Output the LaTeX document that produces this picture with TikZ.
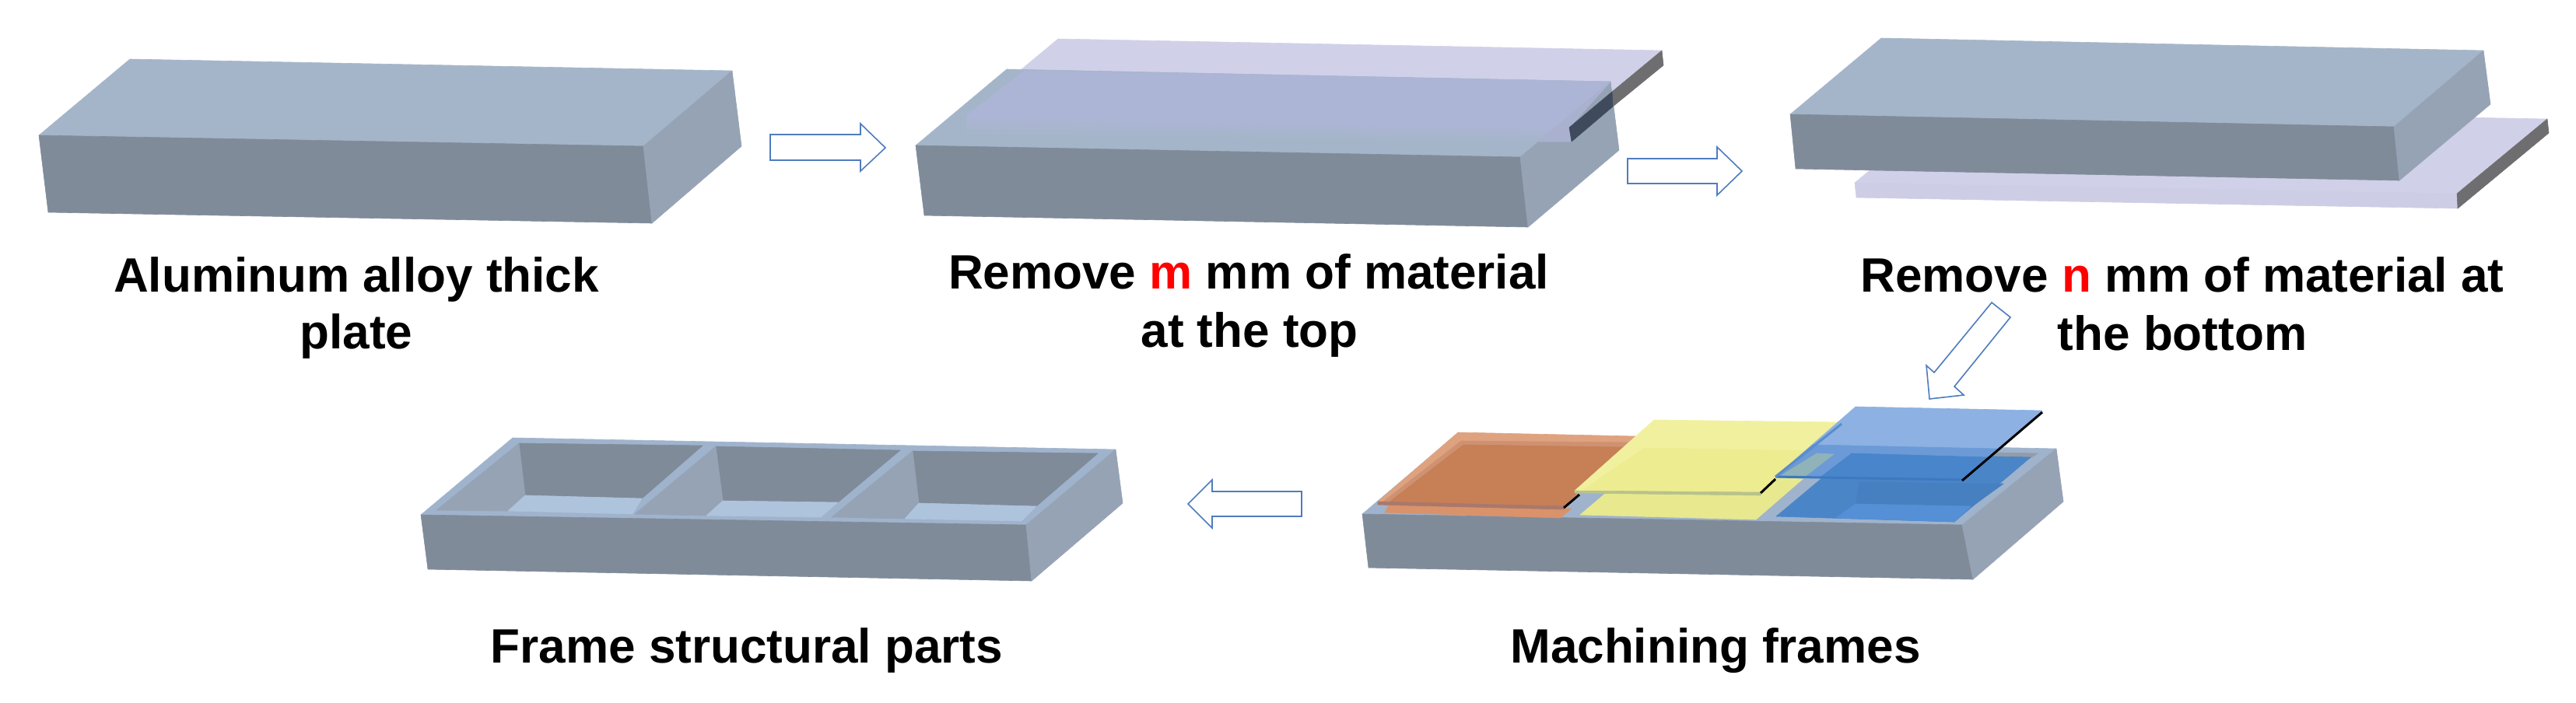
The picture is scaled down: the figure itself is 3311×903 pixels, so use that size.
\documentclass[tikz,border=0pt]{standalone}
\usepackage{fontspec}
\setmainfont{Liberation Sans}
\definecolor{ctop}{HTML}{A5B5C9}
\definecolor{crim}{HTML}{9FB3CC}
\definecolor{cfront}{HTML}{808B9A}
\definecolor{cside}{HTML}{96A3B5}
\definecolor{cfloor}{HTML}{AEC4DC}
\definecolor{cslab}{HTML}{D0D0E9}
\definecolor{cslabf}{HTML}{CDCDE6}
\definecolor{cover}{HTML}{ADB5D6}
\definecolor{cedge}{HTML}{6E6E70}
\definecolor{cedged}{HTML}{3F4A5C}
\definecolor{carrow}{HTML}{4F7CBE}
\definecolor{ored}{HTML}{FF0000}
\definecolor{orcell}{HTML}{D9926A}
\definecolor{orlight}{HTML}{DFA27F}
\definecolor{orband}{HTML}{CE9272}
\definecolor{ormain}{HTML}{C77F56}
\definecolor{oredge}{HTML}{A9786C}
\definecolor{yecell}{HTML}{E8E88F}
\definecolor{yesheet}{HTML}{F1F09E}
\definecolor{yeinner}{HTML}{EDEC90}
\definecolor{yeedge}{HTML}{B8C28A}
\definecolor{blcell}{HTML}{4A85C8}
\definecolor{blfloor}{HTML}{5590D6}
\definecolor{blwall}{HTML}{4780C0}
\definecolor{blsheet}{HTML}{8CB1E2}
\definecolor{blband}{HTML}{6B9AD6}
\definecolor{bldark}{HTML}{4985CA}
\definecolor{blteal}{HTML}{8FB3B8}
\definecolor{blline}{HTML}{3D79C0}
\tikzset{
  face/.style={fill=#1,draw=#1,line width=.6pt,line join=round},
  flowarrow/.style={draw=carrow,fill=white,line width=1.6pt,line join=miter},
  caption/.style={anchor=base,inner sep=0pt,font=\fontsize{62}{62}\selectfont\bfseries,text=black},
  inkedge/.style={draw=black,line width=3pt}
}
\begin{document}
\begin{tikzpicture}[x=1pt,y=-1pt]
\useasboundingbox (0,0) rectangle (3311,903);
% ---- step 1: plate
\path[face=ctop] (167,76) -- (941,91) -- (827,188) -- (50,174) -- cycle;
\path[face=cfront] (50,174) -- (827,188) -- (838,287) -- (62,273) -- cycle;
\path[face=cside] (941,91) -- (953,188) -- (838,287) -- (827,188) -- cycle;
% ---- arrow 1
\draw[flowarrow] (990,173) -- (1106,173) -- (1106,159) -- (1138,190) -- (1106,220) -- (1106,206) -- (990,206) -- cycle;
% ---- step 2: plate with top slab
\path[face=cslab] (1360,50) -- (2136,65) -- (2018,163) -- (1242,148) -- cycle;
\path[face=ctop] (1294,89) -- (2070,105) -- (1954,202) -- (1177,187) -- cycle;
\path[face=cfront] (1177,187) -- (1954,202) -- (1964,292) -- (1188,277) -- cycle;
\path[face=cside] (2070,105) -- (2081,193) -- (1964,292) -- (1954,202) -- cycle;
\path[face=cover] (1317,91) -- (2070,105) -- (2017,164) -- (1243,148) -- cycle;
% the slab's front edge fades into the plate's top face
\foreach \i in {0,...,7}{
  \pgfmathsetmacro{\ya}{\i*3}
  \pgfmathsetmacro{\yb}{(\i+1)*3}
  \pgfmathsetmacro{\mixp}{100-13*\i}
  \path[face=cover!\mixp!ctop] (1243,148+\ya) -- (2017,164+\ya*.75) -- (2020,164+\yb*.75) -- (1243,148+\yb) -- cycle;
}
\path[face=cover!92!gray] (2070,105) -- (2017,164) -- (2020,182) -- (1977,182) -- cycle;
\path[face=cedge] (2136,65) -- (2138,84) -- (2073,137) -- (2072,118) -- cycle;
\path[face=cedged] (2072,118) -- (2073,137) -- (2020,182) -- (2017,164) -- cycle;
% ---- arrow 2
\draw[flowarrow] (2092,204) -- (2207,204) -- (2207,189) -- (2239,220) -- (2207,251) -- (2207,236) -- (2092,236) -- cycle;
% ---- step 3: plate with bottom slab
\path[face=cslab] (2500,139) -- (3274,153) -- (3158,249) -- (2384,235) -- cycle;
\path[face=cslabf] (2384,235) -- (3158,249) -- (3159,268) -- (2386,254) -- cycle;
\path[face=cedge] (3274,153) -- (3276,171) -- (3159,268) -- (3158,249) -- cycle;
\path[face=ctop] (2418,49) -- (3192,65) -- (3077,163) -- (2301,147) -- cycle;
\path[face=cfront] (2301,147) -- (3077,163) -- (3084,232) -- (2308,217) -- cycle;
\path[face=cside] (3192,65) -- (3201,134) -- (3084,232) -- (3077,163) -- cycle;
% ---- arrow 3 (diagonal)
\draw[flowarrow] (2560,389) -- (2584,408) -- (2512,497) -- (2524,508) -- (2480,513) -- (2476,470) -- (2486,479) -- cycle;
% ---- step 4: machining frames
\path[face=crim] (1751,661) -- (1869,561) -- (2643,577) -- (2522,675) -- cycle;
\path[face=cfront] (1751,661) -- (2522,675) -- (2536,745) -- (1759,730) -- cycle;
\path[face=cside] (2643,577) -- (2652,645) -- (2536,745) -- (2522,675) -- cycle;
% pockets
\path[face=cfront!85!white] (2560,582) -- (2619,583) -- (2610,589) -- (2555,589) -- cycle;
\path[face=orcell] (1785,650) -- (2020,654) -- (2005,666) -- (1780,659) -- cycle;
\path[face=yecell] (2031,662) -- (2257,668) -- (2317,616) -- (2351,583) -- (2130,578) -- cycle;
\path[face=blcell] (2380,583) -- (2610,588) -- (2512,671) -- (2283,664) -- cycle;
\path[face=blwall] (2390,620) -- (2575,622) -- (2535,651) -- (2385,650) -- cycle;
\path[face=blfloor] (2385,648) -- (2533,651) -- (2512,671) -- (2360,666) -- cycle;
% orange sheet
\path[face=orlight] (1874,556) -- (2102,561) -- (2010,651) -- (1771,645) -- cycle;
\path[face=orband] (1878,567) -- (2096,569) -- (2010,651) -- (1778,645) -- cycle;
\path[face=ormain] (1881,572) -- (2088,575) -- (2010,651) -- (1785,646) -- cycle;
\path[face=oredge] (1771,645) -- (2010,651) -- (2010,655) -- (1771,649) -- cycle;
\draw[inkedge] (2010,653) -- (2030,636);
% yellow sheet
\path[face=yesheet] (2126,540) -- (2367,543) -- (2264,633) -- (2024,631) -- cycle;
\path[face=yeinner] (2114,576) -- (2331,580) -- (2264,632) -- (2035,630) -- cycle;
\path[face=yeedge] (2024,631) -- (2264,633) -- (2263,637) -- (2024,634) -- cycle;
\draw[inkedge] (2263,634) -- (2282,616);
% blue sheet
\path[face=blsheet] (2385,523) -- (2625,528) -- (2522,617) -- (2282,613) -- cycle;
\path[face=blband] (2330,572) -- (2567,577) -- (2522,617) -- (2282,613) -- cycle;
\path[face=bldark] (2380,583) -- (2556,588) -- (2522,617) -- (2338,615) -- cycle;
\path[face=blteal] (2335,583) -- (2357,584) -- (2317,615) -- (2285,614) -- cycle;
\draw[blline,line width=3pt] (2282,613) -- (2522,617);
\draw[blline!85!white,line width=3pt] (2282,613) -- (2367,545);
\draw[inkedge] (2522,618) -- (2625,530);
% ---- arrow 4
\draw[flowarrow] (1673,632) -- (1558,632) -- (1558,617) -- (1527,648) -- (1558,679) -- (1558,664) -- (1673,664) -- cycle;
% ---- step 5: frame structural part
\path[face=crim] (541,662) -- (659,563) -- (1434,578) -- (1319,675) -- cycle;
\path[face=cfront] (541,662) -- (1319,675) -- (1326,747) -- (550,732) -- cycle;
\path[face=cside] (1434,578) -- (1443,647) -- (1326,747) -- (1319,675) -- cycle;
% cell 1
\path[face=cfront] (667,570) -- (903,573) -- (825,641) -- (675,637) -- cycle;
\path[face=cside] (667,570) -- (675,637) -- (653,657) -- (561,656) -- cycle;
\path[face=cfloor] (675,637) -- (825,641) -- (813,661) -- (653,657) -- cycle;
% cell 2
\path[face=cfront] (920,574) -- (1157,579) -- (1077,646) -- (929,644) -- cycle;
\path[face=cside] (920,574) -- (929,644) -- (908,663) -- (816,661) -- cycle;
\path[face=cfloor] (929,644) -- (1077,646) -- (1055,665) -- (908,663) -- cycle;
% cell 3
\path[face=cfront] (1173,580) -- (1411,583) -- (1332,651) -- (1181,647) -- cycle;
\path[face=cside] (1173,580) -- (1181,647) -- (1163,667) -- (1069,665) -- cycle;
\path[face=cfloor] (1181,647) -- (1332,651) -- (1313,670) -- (1163,667) -- cycle;
% ---- captions
\node[caption] (capA) at (458,375) {Aluminum alloy thick};
\node[caption] (capB) at (458,448) {plate};
\node[caption] (capC) at (1605,371) {Remove {\color{ored}m} mm of material};
\node[caption] (capD) at (1606,446) {at the top};
\node[caption] (capE) at (2805,375) {Remove {\color{ored}n} mm of material at};
\node[caption] (capF) at (2805,450) {the bottom};
\node[caption] (capG) at (2205,852) {Machining frames};
\node[caption] (capH) at (960,852) {Frame structural parts};
\end{tikzpicture}
\end{document}
